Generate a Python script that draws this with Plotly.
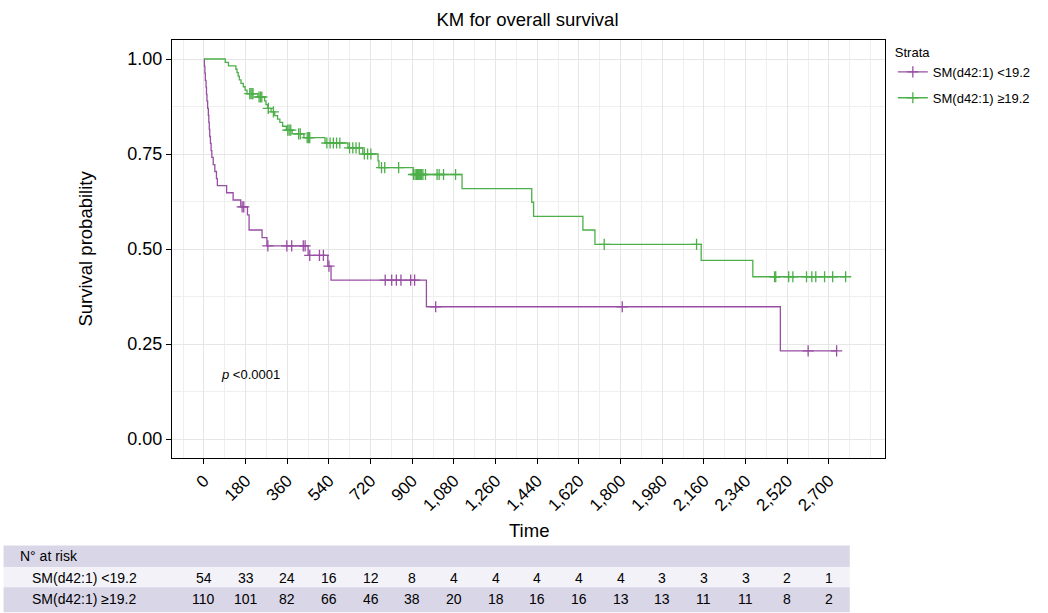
import numpy as np
import plotly.graph_objects as go

# ---------------- data ----------------
strata = ["SM(d42:1) <19.2", "SM(d42:1) \u226519.2"]

time_breaks = [0, 180, 360, 540, 720, 900, 1080, 1260, 1440, 1620,
               1800, 1980, 2160, 2340, 2520, 2700]
time_labels = ["0", "180", "360", "540", "720", "900", "1,080", "1,260",
               "1,440", "1,620", "1,800", "1,980", "2,160", "2,340",
               "2,520", "2,700"]

# group <19.2 : event times and survival right after each event
low_event_times = [0, 2, 4, 6, 9, 11, 13, 16, 19, 21, 23, 25, 28, 31, 34, 40,
                   47, 54, 58, 98, 126, 159, 188, 195, 251, 272, 450, 535,
                   549, 961, 2490]
low_surv = [1.0, 0.981, 0.963, 0.944, 0.926, 0.907, 0.889, 0.870, 0.852,
            0.833, 0.815, 0.796, 0.778, 0.759, 0.741, 0.722, 0.704, 0.685,
            0.667, 0.648, 0.629, 0.611, 0.590, 0.550, 0.530, 0.508, 0.483,
            0.455, 0.418, 0.348, 0.232]
low_censor_times = [165, 172, 276, 358, 379, 429, 437, 457, 499, 516, 540,
                    783, 811, 831, 851, 893, 910, 1001, 1807, 2610, 2733]

# group >=19.2
high_event_times = [0, 92, 106, 138, 143, 148, 153, 160, 170, 178, 186, 233,
                    262, 268, 275, 290, 306, 318, 328, 340, 356, 381, 432,
                    523, 622, 686, 752, 756, 904, 1115, 1416, 1424, 1637,
                    1689, 2148, 2371]
high_surv = [1.0, 0.991, 0.982, 0.973, 0.964, 0.955, 0.945, 0.936, 0.927,
             0.918, 0.909, 0.900, 0.890, 0.880, 0.870, 0.861, 0.851, 0.842,
             0.833, 0.823, 0.813, 0.803, 0.793, 0.779, 0.766, 0.750, 0.732,
             0.714, 0.696, 0.659, 0.623, 0.586, 0.550, 0.512, 0.470, 0.427]
high_censor_times = [198, 203, 208, 212, 238, 244, 250, 278, 300, 362, 368,
                     375, 409, 416, 446, 452, 457, 531, 545, 559, 573, 587,
                     629, 643, 657, 671, 693, 707, 721, 767, 781, 841, 905,
                     912, 918, 922, 926, 930, 935, 940, 946, 957, 1007, 1016,
                     1035, 1087, 1729, 2128, 2465, 2470, 2526, 2544, 2603,
                     2626, 2643, 2681, 2716, 2772]

risk_low = [54, 33, 24, 16, 12, 8, 4, 4, 4, 4, 4, 3, 3, 3, 2, 1]
risk_high = [110, 101, 82, 66, 46, 38, 20, 18, 16, 16, 13, 13, 11, 11, 8, 2]

p_text = "<i>p</i> <0.0001"

colors = ["#984EA3", "#4DAF4A"]

# ---------------- layout geometry ----------------
W, H = 1048, 613
L, R, T, B = 172, 900, 40, 458.5          # plot panel in pixels
X_RANGE = [-138, 2942]
Y_RANGE = [-0.05, 1.05]
FONT = "Liberation Sans, Arial, sans-serif"


def px_x(p):
    return (p - L) / (R - L)


def px_y(p):
    return (B - p) / (B - T)


def step_value(times, surv, t):
    i = np.searchsorted(np.asarray(times), t, side="right") - 1
    return np.asarray(surv)[i]


fig = go.Figure()

groups = [
    (low_event_times, low_surv, low_censor_times),
    (high_event_times, high_surv, high_censor_times),
]

for name, col, (et, sv, ct) in zip(strata, colors, groups):
    end_t = max(ct[-1], et[-1])
    xs = list(et) + [end_t]
    ys = list(sv) + [sv[-1]]
    fig.add_trace(go.Scatter(
        x=xs, y=ys, mode="lines", line=dict(color=col, width=1.3, shape="hv"),
        showlegend=False, hoverinfo="skip"))
    cy = [step_value(et, sv, t) for t in ct]
    fig.add_trace(go.Scatter(
        x=ct, y=cy, mode="markers",
        marker=dict(symbol="cross-thin", size=8,
                    line=dict(color=col, width=1.3)),
        showlegend=False, hoverinfo="skip"))
    # legend entry
    fig.add_trace(go.Scatter(
        x=[None], y=[None], mode="lines+markers", name=name,
        legendgroup=name,
        line=dict(color=col, width=1.3),
        marker=dict(symbol="cross-thin", size=8,
                    line=dict(color=col, width=1.3))))

annotations = []
shapes = []

# p-value
annotations.append(dict(x=65, y=0.17, xref="x", yref="y", text=p_text,
                        showarrow=False, xanchor="left", yanchor="middle",
                        font=dict(size=13, color="black", family=FONT)))

# axis titles
annotations.append(dict(x=px_x(84), y=px_y(249), xref="paper", yref="paper",
                        text="Survival probability", textangle=-90,
                        showarrow=False, xanchor="center", yanchor="middle",
                        font=dict(size=18.5, color="black", family=FONT)))
annotations.append(dict(x=px_x(536), y=px_y(531), xref="paper", yref="paper",
                        text="Time", showarrow=False, xanchor="center",
                        yanchor="middle",
                        font=dict(size=18.5, color="black", family=FONT)))

# number-at-risk table
bands = [(546, 568, "#d9d6e8"), (568, 588, "#f3f2f8"), (588, 613, "#d9d6e8")]
for top, bot, fill in bands:
    shapes.append(dict(type="rect", xref="paper", yref="paper",
                       x0=px_x(0), x1=px_x(864), y0=px_y(bot), y1=px_y(top),
                       fillcolor=fill, line=dict(width=0), layer="below"))

annotations.append(dict(x=px_x(15), y=px_y(557), xref="paper", yref="paper",
                        text="N\u00b0 at risk", showarrow=False,
                        xanchor="left", yanchor="middle",
                        font=dict(size=14, color="black", family=FONT)))
for row_y, label, counts in [(579, strata[0], risk_low),
                             (600, strata[1], risk_high)]:
    annotations.append(dict(x=px_x(27), y=px_y(row_y), xref="paper",
                            yref="paper", text=label, showarrow=False,
                            xanchor="left", yanchor="middle",
                            font=dict(size=14, color="black", family=FONT)))
    for t, n in zip(time_breaks, counts):
        annotations.append(dict(x=t, y=px_y(row_y), xref="x", yref="paper",
                                text=str(n), showarrow=False,
                                xanchor="center", yanchor="middle",
                                font=dict(size=14, color="black",
                                          family=FONT)))

grid_major = "#e6e6e6"
grid_minor = "#efefef"

fig.update_layout(
    width=W, height=H,
    margin=dict(l=L, r=W - R, t=T, b=H - B, pad=0),
    paper_bgcolor="white", plot_bgcolor="white",
    font=dict(family=FONT, color="black"),
    title=dict(text="KM for overall survival", x=px_x(535), xref="paper",
               xanchor="center", y=1 - 19.5 / H, yref="container",
               yanchor="middle", font=dict(size=18.5, color="black",
                                           family=FONT)),
    xaxis=dict(range=X_RANGE, tickvals=time_breaks, ticktext=time_labels,
               tickangle=-45, ticks="outside", ticklen=5, tickcolor="black",
               tickwidth=1, showline=True, linecolor="black", linewidth=1.2,
               mirror=True, showgrid=True, gridcolor=grid_major, gridwidth=1,
               zeroline=False, tickfont=dict(size=17, color="black"),
               minor=dict(dtick=90, tick0=0, showgrid=True,
                          gridcolor=grid_minor, gridwidth=1, ticks="")),
    yaxis=dict(range=Y_RANGE, tickvals=[0, 0.25, 0.5, 0.75, 1.0],
               ticktext=["0.00", "0.25", "0.50", "0.75", "1.00"],
               ticks="outside", ticklen=5, tickcolor="black", tickwidth=1,
               showline=True, linecolor="black", linewidth=1.2, mirror=True,
               showgrid=True, gridcolor=grid_major, gridwidth=1,
               zeroline=False, tickfont=dict(size=18, color="black"),
               minor=dict(dtick=0.125, tick0=0, showgrid=True,
                          gridcolor=grid_minor, gridwidth=1, ticks="")),
    legend=dict(x=px_x(908), y=1.0, xanchor="left", yanchor="top",
                xref="paper", yref="paper",
                title=dict(text="Strata", font=dict(size=13)),
                font=dict(size=13, color="black"), bgcolor="rgba(0,0,0,0)",
                tracegroupgap=6, traceorder="grouped"),
    annotations=annotations,
    shapes=shapes,
)

fig.write_html("out.html")
